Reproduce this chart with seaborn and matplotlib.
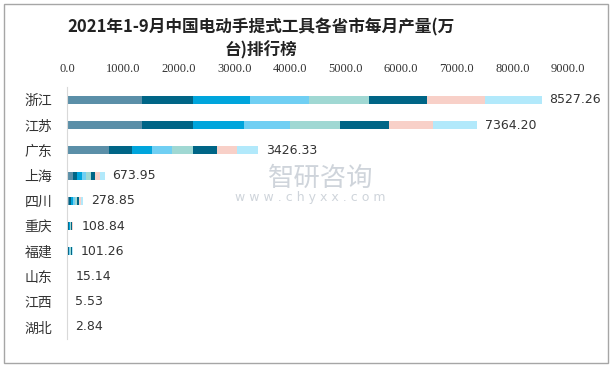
import numpy as np
import pandas as pd
import matplotlib
matplotlib.use('Agg')
import matplotlib.pyplot as plt
from matplotlib.patches import Rectangle
import seaborn as sns

provinces = ['浙江', '江苏', '广东', '上海', '四川', '重庆', '福建', '山东', '江西', '湖北']
months = ['1-2月', '3月', '4月', '5月', '6月', '7月', '8月', '9月']

# monthly output (10k units)
zhejiang = [1342, 916, 1024, 1060, 1077, 1042, 1055, 1011.26]
jiangsu = [1340, 915, 915, 825, 915, 879, 778, 797.2]
guangdong = [749, 413, 359, 359, 377, 431, 359, 379.33]
shanghai = [96.2, 84.5, 82.3, 78.1, 80.6, 83.9, 80.2, 88.15]
sichuan = [30.5, 36.2, 33.8, 35.1, 34.6, 36.0, 36.4, 36.25]
chongqing = [12.1, 15.3, 13.2, 14.0, 13.6, 14.2, 13.1, 13.34]
fujian = [11.5, 13.2, 12.6, 12.8, 12.9, 12.7, 12.6, 12.96]
shandong = [1.6, 1.8, 1.9, 2.0, 1.9, 2.0, 1.9, 2.04]
jiangxi = [0.6, 0.7, 0.7, 0.7, 0.7, 0.7, 0.7, 0.73]
hubei = [0.3, 0.35, 0.35, 0.35, 0.37, 0.38, 0.37, 0.37]

colors = ['#5b8fa8', '#006586', '#00a5dc', '#70cff3', '#a0d8d3', '#006586', '#f8d0c8', '#b2e9fb']

df = pd.DataFrame([zhejiang, jiangsu, guangdong, shanghai, sichuan,
                   chongqing, fujian, shandong, jiangxi, hubei],
                  index=provinces, columns=months)
cum = df.cumsum(axis=1)
cum['省市'] = provinces

sns.set_style('white')
plt.rcParams['font.family'] = ['Noto Sans CJK SC', 'DejaVu Sans']

fig = plt.figure(figsize=(6.15, 3.67), dpi=100)
ax = fig.add_axes([0.1095, 0.075, 0.814, 0.687])

# stacked bars: draw cumulative totals from last month back to first
for i in range(len(months) - 1, -1, -1):
    sns.barplot(data=cum, x=months[i], y='省市', color=colors[i],
                orient='h', width=0.32, ax=ax, saturation=1,
                linewidth=0, edgecolor='none')

for j, p in enumerate(provinces):
    total = df.loc[p].sum()
    ax.text(total + 140, j, f'{total:.2f}', va='center', ha='left',
            fontsize=9, color='#333333', family='DejaVu Sans')

ax.set_xlim(0, 9000)
ax.set_xticks(np.arange(0, 9001, 1000))
ax.set_xticklabels([f'{v:.1f}' for v in np.arange(0, 9001, 1000)],
                   family='Liberation Serif', fontsize=9, color='#333333')
ax.xaxis.tick_top()
ax.tick_params(axis='x', length=0, pad=9)
ax.tick_params(axis='y', length=0, pad=11, labelsize=10, labelcolor='#333333')
ax.set_xlabel('')
ax.set_ylabel('')
for s in ['top', 'right', 'bottom']:
    ax.spines[s].set_visible(False)
ax.spines['left'].set_color('#d9d9d9')

fig.text(0.424, 0.926, '2021年1-9月中国电动手提式工具各省市每月产量(万',
         ha='center', va='center', fontsize=12, fontweight='bold', color='#222222')
fig.text(0.424, 0.862, '台)排行榜', ha='center', va='center',
         fontsize=12, fontweight='bold', color='#222222')

# watermark
fig.text(0.522, 0.515, '智研咨询', ha='center', va='center', fontsize=19,
         color='#c3cad2', alpha=0.8)
fig.text(0.505, 0.463, 'w w w . c h y x x . c o m', ha='center', va='center',
         fontsize=9, color='#c3cad2', alpha=0.8, family='DejaVu Sans')

fig.patches.append(Rectangle((4 / 615, 4 / 367), 604 / 615, 359 / 367,
                             transform=fig.transFigure, fill=False,
                             edgecolor='#a6a6a6', linewidth=1))

fig.savefig('out.png', dpi=100)
